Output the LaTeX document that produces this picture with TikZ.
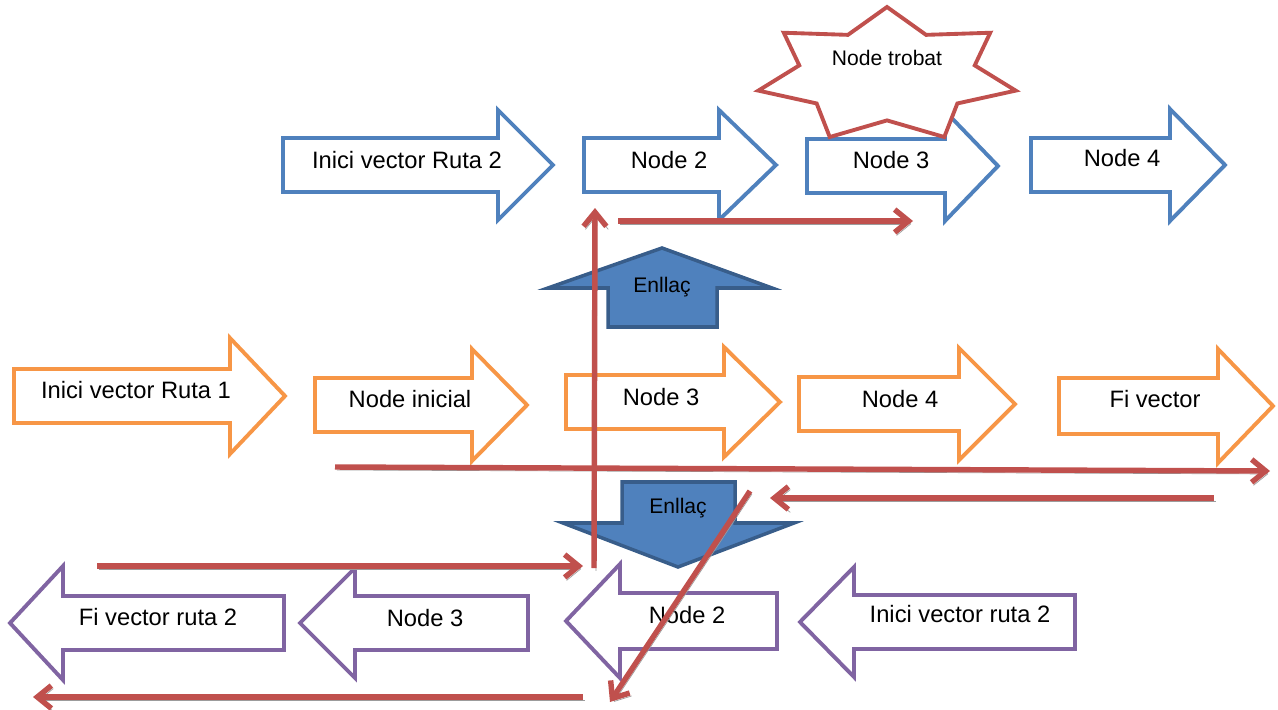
\documentclass[tikz,border=0pt]{standalone}
\usepackage{fontspec}
\setmainfont{Liberation Sans}
\usetikzlibrary{arrows.meta}
\definecolor{RouteBlue}{HTML}{4F81BD}
\definecolor{RouteOrange}{HTML}{F79646}
\definecolor{RoutePurple}{HTML}{8064A2}
\definecolor{LinkBorder}{HTML}{385D8A}
\definecolor{TrailRed}{HTML}{C0504D}
\definecolor{TrailShadow}{HTML}{9C9C9C}

\begin{document}
\begin{tikzpicture}[x=0.02cm,y=-0.02cm,line join=miter,
  route/.style={line width=2.2pt,fill=white},
  link/.style={line width=2pt,draw=LinkBorder,fill=RouteBlue},
  txt/.style={font=\fontsize{13.5}{16}\selectfont,inner sep=0pt},
  smalltxt/.style={font=\fontsize{12}{14}\selectfont,inner sep=0pt},
  trail/.style={TrailRed,line width=3.1pt,-{Straight Barb[length=8pt,width=13pt]},
    preaction={draw=TrailShadow,transform canvas={shift={(1.1pt,-1.7pt)}}}}]
  \useasboundingbox (0,0) rectangle (1278,710);

  % route 2, blue
  \foreach \n/\xl/\xh/\xt/\yc/\bh/\hh/\lx/\ly/\t in {
      b0/283/498/553/165/27/55/407/160/Inici vector Ruta 2,
      b2/584/719/776/165/27/55/669/160/Node 2,
      b3/807/945/998/166/27/55/891/160/Node 3,
      b4/1031/1170/1225/165/27/56/1122/158/Node 4}{
    \draw[route,draw=RouteBlue] (\xl,{\yc-\bh}) -- (\xh,{\yc-\bh}) -- (\xh,{\yc-\hh})
      -- (\xt,\yc) -- (\xh,{\yc+\hh}) -- (\xh,{\yc+\bh}) -- (\xl,{\yc+\bh}) -- cycle;
    \node[txt] (\n) at (\lx,\ly) {\t};
  }

  % found node
  \draw[route,draw=TrailRed] (887,7)
    \foreach \i [evaluate=\i as \rx using {ifthenelse(mod(\i,2)==0,132,90)},
                 evaluate=\i as \ry using {ifthenelse(mod(\i,2)==0,68.4,45)}] in {1,...,13}{
      -- ({887+\rx*cos(90+\i*360/14)},{75.4-\ry*sin(90+\i*360/14)})
    } -- cycle;
  \node[smalltxt] (trobat) at (887,58) {Node trobat};

  % route 1, orange
  \foreach \n/\xl/\xh/\xt/\yc/\bh/\hh/\lx/\ly/\t in {
      o0/14/230/285/396/27/58/136/390/Inici vector Ruta 1,
      o1/315/472/527/405/27/56/410/399/Node inicial,
      o3/566/724/780/402/27/55/661/397/Node 3,
      o4/799/959/1015/404/27/56/900/399/Node 4,
      o5/1059/1218/1273/406/28/57/1155/399/Fi vector}{
    \draw[route,draw=RouteOrange] (\xl,{\yc-\bh}) -- (\xh,{\yc-\bh}) -- (\xh,{\yc-\hh})
      -- (\xt,\yc) -- (\xh,{\yc+\hh}) -- (\xh,{\yc+\bh}) -- (\xl,{\yc+\bh}) -- cycle;
    \node[txt] (\n) at (\lx,\ly) {\t};
  }

  % route 2 backwards, purple
  \foreach \n/\xt/\xh/\xr/\yc/\bh/\hh/\lx/\ly/\t in {
      p0/10/63/284/623/27/57/158/617/Fi vector ruta 2,
      p1/300/355/528/623/27/55/425/618/Node 3,
      p2/566/620/777/621/28/57/687/615/Node 2,
      p3/800/854/1075/622/27/55/960/614/Inici vector ruta 2}{
    \draw[route,draw=RoutePurple] (\xt,\yc) -- (\xh,{\yc-\hh}) -- (\xh,{\yc-\bh})
      -- (\xr,{\yc-\bh}) -- (\xr,{\yc+\bh}) -- (\xh,{\yc+\bh}) -- (\xh,{\yc+\hh}) -- cycle;
    \node[txt] (\n) at (\lx,\ly) {\t};
  }

  % links
  \draw[link] (662,248) -- (772,288) -- (717,288) -- (717,327) -- (608,327)
    -- (608,288) -- (548,288) -- cycle;
  \node[smalltxt] (up) at (662,287) {Enllaç};
  \draw[link] (622,482) -- (735,482) -- (735,523) -- (794,523) -- (678,567)
    -- (563,523) -- (622,523) -- cycle;
  \node[smalltxt] (down) at (678,508) {Enllaç};

  % search trail
  \coordinate (t1a) at (594,568);  \coordinate (t1b) at (595,208);
  \coordinate (t2a) at (618,221);  \coordinate (t2b) at (913,221);
  \coordinate (t3a) at (335,467);  \coordinate (t3b) at (1270,471);
  \coordinate (t4a) at (1214,498); \coordinate (t4b) at (770,498);
  \coordinate (t5a) at (97,566);   \coordinate (t5b) at (583,566);
  \coordinate (t6a) at (583,697);  \coordinate (t6b) at (33,697);
  \coordinate (t7a) at (750,491);  \coordinate (t7b) at (610,702);
  \draw[trail] (t3a) -- (t3b);
  \draw[trail] (t4a) -- (t4b);
  \draw[trail] (t5a) -- (t5b);
  \draw[trail] (t6a) -- (t6b);
  \draw[trail] (t1a) -- (t1b);
  \draw[trail] (t2a) -- (t2b);
  \draw[trail] (t7a) -- (t7b);
\end{tikzpicture}
\end{document}
